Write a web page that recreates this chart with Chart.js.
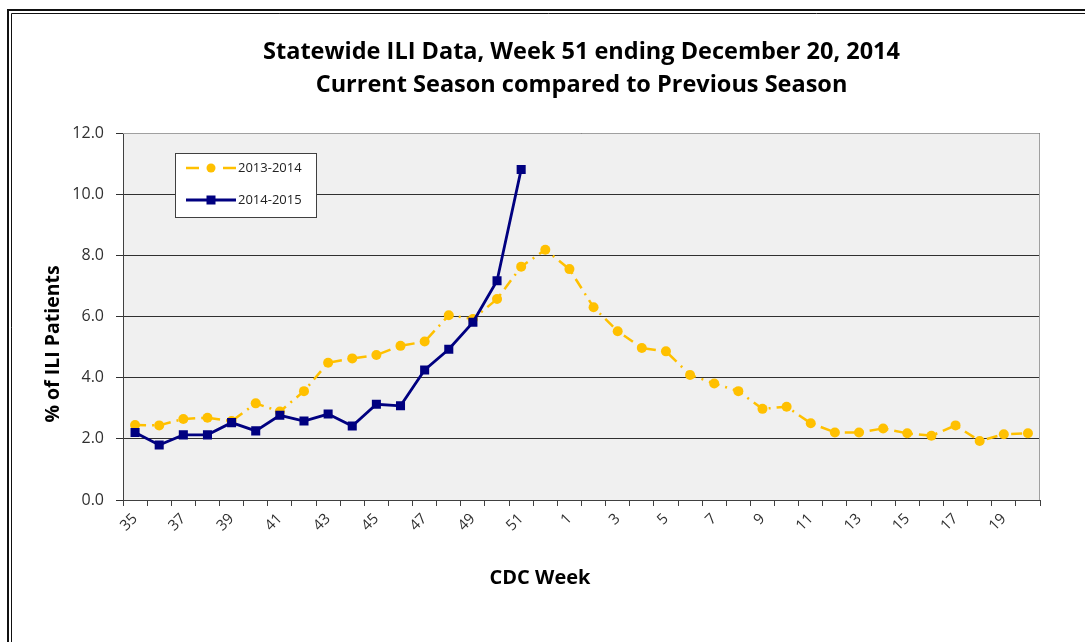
<!DOCTYPE html>
<html>
<head>
<meta charset="utf-8">
<script src="https://cdn.jsdelivr.net/npm/chart.js@4.4.1/dist/chart.umd.min.js"></script>
<style>
  html, body { margin: 0; padding: 0; background: #fff; }
  #wrap { width: 1085px; height: 642px; position: relative; }
</style>
</head>
<body>
<div id="wrap"><canvas id="c" width="1085" height="642"></canvas></div>
<script>
// ---- data ----
const weeks = ['35','36','37','38','39','40','41','42','43','44','45','46','47','48','49','50','51','52',
               '1','2','3','4','5','6','7','8','9','10','11','12','13','14','15','16','17','18','19','20'];
const season1314 = [2.45,2.44,2.65,2.69,2.58,3.16,2.89,3.56,4.49,4.63,4.74,5.04,5.18,6.04,5.92,6.57,7.63,8.18,
                    7.55,6.30,5.52,4.97,4.86,4.09,3.81,3.56,2.98,3.05,2.51,2.21,2.21,2.34,2.18,2.10,2.44,1.93,2.15,2.18];
const season1415 = [2.21,1.80,2.13,2.13,2.53,2.26,2.77,2.58,2.81,2.42,3.13,3.08,4.25,4.93,5.81,7.17,10.81];
const seriesNames = ['2013-2014','2014-2015'];
const titleLines = ['Statewide ILI Data, Week 51 ending December 20, 2014','Current Season compared to Previous Season'];
const yTitle = '% of ILI Patients';
const xTitle = 'CDC Week';

const YELLOW = '#FFC000';
const NAVY = '#000080';
const FONT = "'Open Sans', 'DejaVu Sans', sans-serif";

const framePlugin = {
  id: 'frame',
  beforeDraw(chart) {
    const {ctx, chartArea: a} = chart;
    ctx.save();
    ctx.fillStyle = '#f0f0f0';
    ctx.fillRect(a.left, a.top, a.right - a.left, a.bottom - a.top);
    // outer frame
    ctx.strokeStyle = '#111';
    ctx.lineWidth = 2;
    ctx.beginPath();
    ctx.moveTo(8, 642); ctx.lineTo(8, 10); ctx.lineTo(1085, 10);
    ctx.stroke();
    ctx.lineWidth = 1;
    ctx.beginPath();
    ctx.moveTo(11.5, 642); ctx.lineTo(11.5, 13.5); ctx.lineTo(1085, 13.5);
    ctx.stroke();
    ctx.restore();
  },
  afterDraw(chart) {
    const {ctx} = chart;
    ctx.save();
    ctx.fillStyle = '#000';
    ctx.textAlign = 'center';
    ctx.textBaseline = 'middle';
    // x axis title
    ctx.font = "bold 20px " + FONT;
    ctx.fillText(xTitle, 540, 578);
    // y axis title
    ctx.translate(53, 344);
    ctx.rotate(-Math.PI / 2);
    ctx.font = "bold 19.5px " + FONT;
    ctx.fillText(yTitle, 0, 0);
    ctx.restore();
  },
  afterDatasetsDraw(chart) {
    const {ctx, chartArea: a} = chart;
    ctx.save();
    // plot border top/right
    ctx.strokeStyle = '#a0a0a0';
    ctx.lineWidth = 1;
    ctx.beginPath();
    ctx.moveTo(a.left, a.top + 0.5); ctx.lineTo(a.right - 0.5, a.top + 0.5); ctx.lineTo(a.right - 0.5, a.bottom);
    ctx.stroke();
    // legend box
    const bx = 175.5, by = 153.5, bw = 141, bh = 64;
    ctx.fillStyle = '#ffffff';
    ctx.fillRect(bx, by, bw, bh);
    ctx.strokeStyle = '#404040';
    ctx.strokeRect(bx, by, bw, bh);
    const ds = chart.data.datasets;
    const rows = [168, 200];
    ds.forEach((d, i) => {
      const y = rows[i];
      ctx.strokeStyle = d.borderColor;
      ctx.lineWidth = d.borderWidth;
      ctx.beginPath();
      if (i === 0) {
        ctx.moveTo(186, y); ctx.lineTo(199, y);
        ctx.moveTo(223, y); ctx.lineTo(236, y);
      } else {
        ctx.moveTo(186, y); ctx.lineTo(236, y);
      }
      ctx.stroke();
      ctx.fillStyle = d.pointBackgroundColor;
      if (d.pointStyle === 'rect') {
        ctx.fillRect(211 - 4.5, y - 4.5, 9, 9);
      } else {
        ctx.beginPath(); ctx.arc(211, y, 4.5, 0, Math.PI * 2); ctx.fill();
      }
      ctx.fillStyle = '#222';
      ctx.font = "13px " + FONT;
      ctx.textBaseline = 'middle';
      ctx.textAlign = 'left';
      ctx.fillText(d.label, 238, y);
    });
    ctx.restore();
  }
};

new Chart(document.getElementById('c'), {
  type: 'line',
  data: {
    labels: weeks,
    datasets: [
      {
        label: seriesNames[0],
        data: season1314,
        borderColor: YELLOW,
        backgroundColor: YELLOW,
        pointBackgroundColor: YELLOW,
        pointBorderColor: YELLOW,
        borderWidth: 2.5,
        borderDash: [11, 6, 2, 6],
        pointStyle: 'circle',
        pointRadius: 5,
        pointBorderWidth: 0,
        tension: 0,
        fill: false,
        order: 2
      },
      {
        label: seriesNames[1],
        data: season1415,
        borderColor: NAVY,
        backgroundColor: NAVY,
        pointBackgroundColor: NAVY,
        pointBorderColor: NAVY,
        borderWidth: 2.8,
        pointStyle: 'rect',
        pointRadius: 6.4,
        pointBorderWidth: 0,
        tension: 0,
        fill: false,
        order: 1
      }
    ]
  },
  options: {
    responsive: false,
    animation: false,
    events: [],
    layout: { padding: { top: 10, right: 45, bottom: 0, left: 0 } },
    plugins: {
      legend: { display: false },
      tooltip: { enabled: false },
      title: {
        display: true,
        text: titleLines,
        fullSize: false,
        color: '#000',
        font: { family: FONT, size: 23.5, weight: 'bold', lineHeight: 1.43 },
        padding: { top: 25.2, bottom: 30.6 }
      }
    },
    scales: {
      x: {
        type: 'category',
        offset: true,
        grid: { offset: true, drawOnChartArea: false, drawTicks: true, tickLength: 6, color: '#404040' },
        border: { display: true, color: '#404040', width: 1 },
        ticks: {
          autoSkip: false,
          maxRotation: 45,
          minRotation: 45,
          color: '#303030',
          padding: 4,
          font: { family: FONT, size: 15 },
          callback: function(v, i) { return i % 2 === 0 ? this.getLabelForValue(v) : ''; }
        },
        title: { display: false },
        afterFit(scale) { scale.height = 142; }
      },
      y: {
        min: 0,
        max: 12,
        ticks: {
          stepSize: 2,
          color: '#303030',
          padding: 12,
          font: { family: FONT, size: 16 },
          callback: (v) => Number(v).toFixed(1)
        },
        grid: { color: '#303030', lineWidth: 1, tickLength: 7, drawTicks: true },
        border: { display: true, color: '#404040', width: 1 },
        title: { display: false },
        afterFit(scale) { scale.width = 123; }
      }
    }
  },
  plugins: [framePlugin]
});
</script>
</body>
</html>
